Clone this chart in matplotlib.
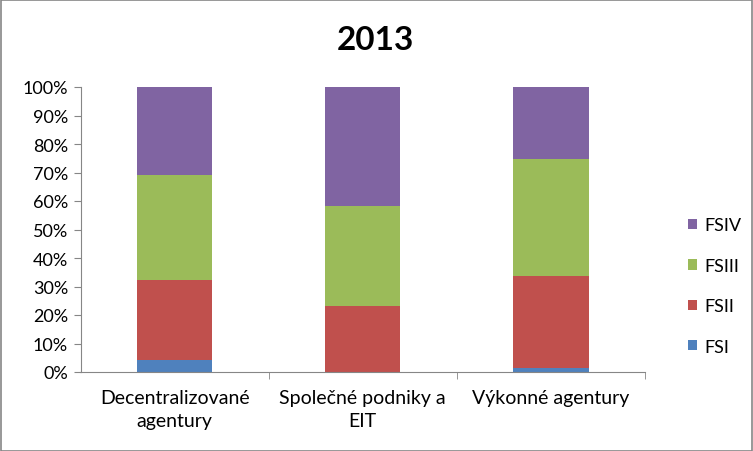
import matplotlib
matplotlib.use("Agg")
import matplotlib.pyplot as plt
from matplotlib.patches import Rectangle
import numpy as np

plt.rcParams['font.family'] = ['Lato', 'DejaVu Sans']

categories = ["Decentralizované\nagentury", "Společné podniky a\nEIT", "Výkonné agentury"]
series_names = ["FSI", "FSII", "FSIII", "FSIV"]
fsi = [4.2, 0.0, 1.3]
fsii = [28.0, 23.0, 32.3]
fsiii = [36.9, 35.1, 41.0]
fsiv = [30.9, 41.9, 25.4]
colors = ["#4F81BD", "#C0504D", "#9BBB59", "#8064A2"]
yticks = [0, 10, 20, 30, 40, 50, 60, 70, 80, 90, 100]

W, H = 753, 452
fig = plt.figure(figsize=(W / 100, H / 100), dpi=100)
ax = fig.add_axes([80.5 / W, 1 - 373 / H, (645 - 80.5) / W, (373 - 88) / H])

x = np.arange(len(categories))
bottom = np.zeros(len(categories))
handles = []
for name, vals, c in zip(series_names, [fsi, fsii, fsiii, fsiv], colors):
    b = ax.bar(x, vals, width=0.40, bottom=bottom, color=c, label=name, zorder=2)
    handles.append(b)
    bottom += np.array(vals)

ax.set_xlim(-0.5, len(categories) - 0.5)
ax.set_ylim(0, 100)
ax.set_yticks(yticks)
ax.set_yticklabels([f"{v}%" for v in yticks], fontsize=13)
ax.set_xticks(x)
ax.set_xticklabels(categories, fontsize=14, linespacing=1.45)
ax.tick_params(axis='x', length=0, pad=12)
ax.tick_params(axis='y', length=5, color="#868686", pad=4)
ax.set_xticks([0.5, 1.5, 2.5], minor=True)
ax.tick_params(axis='x', which='minor', length=5, color="#868686")
for s in ['top', 'right']:
    ax.spines[s].set_visible(False)
for s in ['left', 'bottom']:
    ax.spines[s].set_color("#868686")

fig.text(375 / W, 1 - 40 / H, "2013", fontsize=24, fontweight='bold', ha='center', va='center')

leg = fig.legend(handles[::-1], series_names[::-1], loc='center left',
                 bbox_to_anchor=(672 / W, 1 - 287 / H), frameon=False, fontsize=13,
                 handlelength=0.5, handleheight=0.5, handletextpad=0.4, labelspacing=1.35)

fig.patches.append(Rectangle((0.5 / W, 0.5 / H), 1 - 1.5 / W, 1 - 1.5 / H, transform=fig.transFigure,
                             fill=False, edgecolor="#868686", linewidth=1.2))

fig.savefig("out.png", dpi=100)
